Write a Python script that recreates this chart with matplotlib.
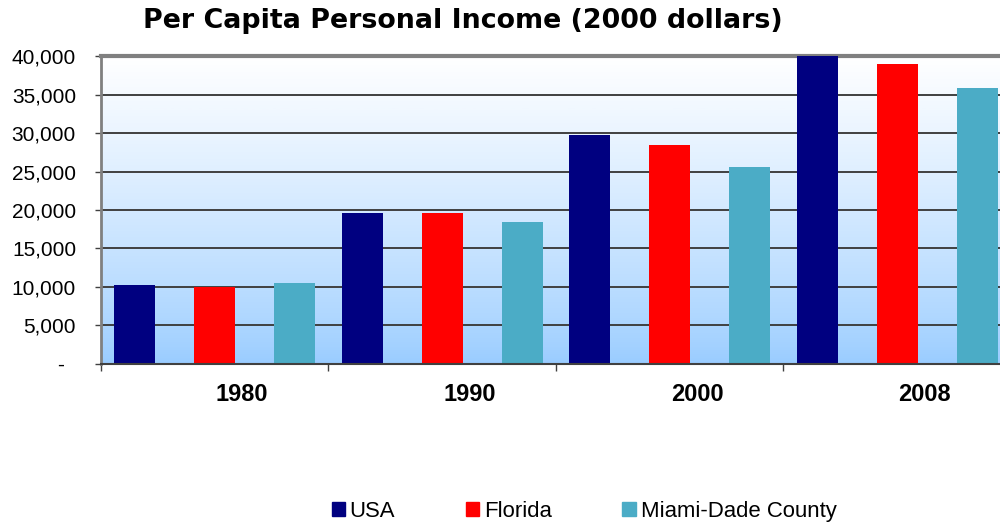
import numpy as np
import matplotlib
matplotlib.use("Agg")
import matplotlib.pyplot as plt
from matplotlib.colors import LinearSegmentedColormap
from matplotlib.patches import Patch

years = ["1980", "1990", "2000", "2008"]
series = ["USA", "Florida", "Miami-Dade County"]
usa = [10200, 19600, 29700, 40300]
florida = [10000, 19600, 28400, 39000]
miami = [10500, 18400, 25600, 35900]
colors = ["#000080", "#FF0000", "#4BACC6"]
ytick_vals = [0, 5000, 10000, 15000, 20000, 25000, 30000, 35000, 40000]
ytick_labels = ["-  ", "5,000", "10,000", "15,000", "20,000", "25,000", "30,000", "35,000", "40,000"]

fig = plt.figure(figsize=(10, 5.22), dpi=100)
ax = fig.add_axes([0.101, 0.3027, 0.899, 0.59])

x = np.arange(len(years))
offsets = [-0.352, 0.0, 0.352]
width = 0.18
for vals, off, c, name in zip([usa, florida, miami], offsets, colors, series):
    ax.bar(x + off, vals, width, color=c, label=name, zorder=3)

ax.set_xlim(-0.5, 3.452)
ax.set_ylim(0, 40000)

# gradient background, white at top to light blue at bottom
grad = np.linspace(1, 0, 256).reshape(-1, 1) ** 0.8
cmap = LinearSegmentedColormap.from_list("bg", ["#99CCFF", "#FFFFFF"])
ax.imshow(grad, cmap=cmap, aspect="auto", extent=[-0.5, 3.452, 0, 40000],
          origin="upper", zorder=0)

ax.set_yticks(ytick_vals)
ax.set_yticklabels(ytick_labels, fontfamily="Liberation Sans", fontsize=15)
ax.yaxis.grid(True, color="#404040", lw=1.4)
for gl in ax.get_ygridlines():
    gl.set_zorder(1)
ax.tick_params(axis="y", length=4.5, width=1, color="#404040", pad=13.5)

# year labels sit a bit right of group centres, as in the original
ax.set_xticks(x + 0.12)
ax.set_xticklabels(years, fontfamily="Liberation Sans", fontweight="bold", fontsize=17)
ax.set_xticks([-0.5, 0.5, 1.5, 2.5], minor=True)
ax.tick_params(axis="x", which="major", length=0, pad=14)
ax.tick_params(axis="x", which="minor", length=5, width=1, color="#404040")

for s in ["right", "bottom"]:
    ax.spines[s].set_visible(False)
ax.spines["top"].set_color("#808080")
ax.spines["top"].set_linewidth(3)
ax.spines["left"].set_color("#808080")
ax.spines["left"].set_linewidth(2)
ax.axhline(0, color="#404040", lw=1.5, zorder=4, clip_on=False)

fig.text(0.463, 0.96, "Per Capita Personal Income (2000 dollars)", ha="center", va="center",
         fontsize=19.4, fontweight="bold", fontfamily="DejaVu Sans")

handles = [Patch(color=c, label=n) for c, n in zip(colors, series)]
fig.legend(handles=handles, loc="center", bbox_to_anchor=(0.584, 0.021), ncol=3, frameon=False,
           prop={"family": "Liberation Sans", "size": 15.9}, handlelength=0.59, handleheight=0.59,
           handletextpad=0.23, columnspacing=3.2, borderpad=0, borderaxespad=0)

fig.savefig("out.png", dpi=100)
